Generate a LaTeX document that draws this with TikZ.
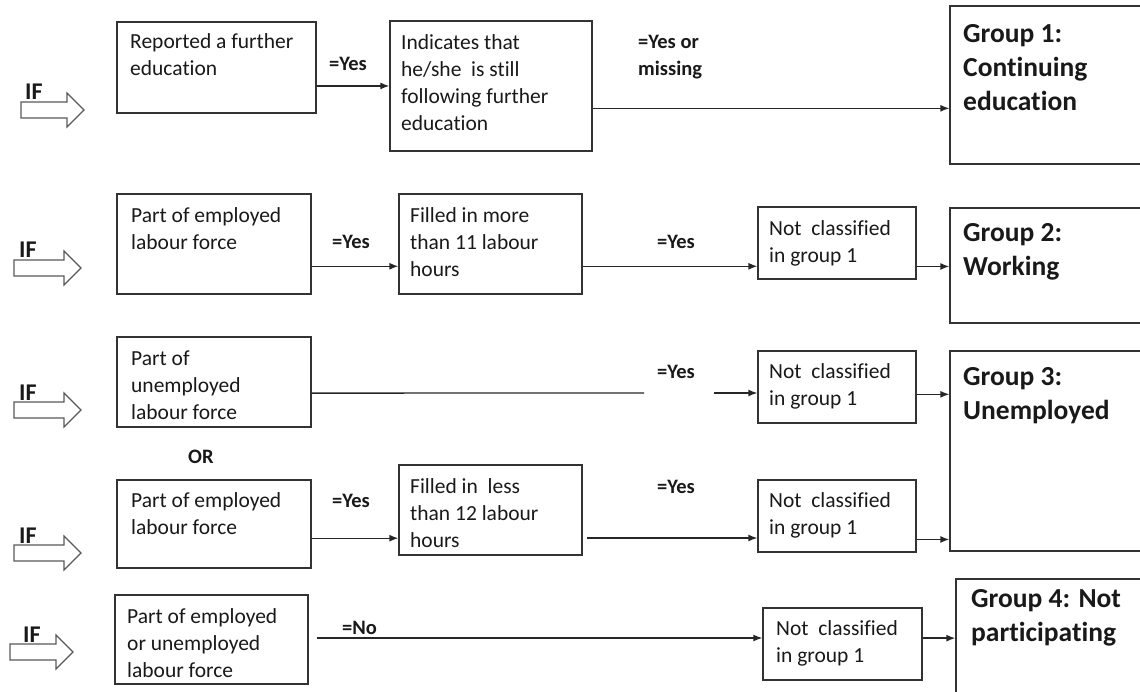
\documentclass[tikz,border=0pt]{standalone}
\usepackage{fontspec}
\setmainfont{Carlito}[Ligatures=NoCommon]
\usetikzlibrary{arrows.meta,fit,calc}
\begin{document}
\begin{tikzpicture}[x=1pt,y=-1pt,
  box/.style={draw=black!80, line width=1.3pt, inner sep=0pt},
  body/.style={anchor=north west, inner sep=0pt, align=left, text=black!90,
    font=\fontsize{21.5}{27}\selectfont, yshift=18.9pt},
  grp/.style={anchor=north west, inner sep=0pt, align=left, text=black!90,
    font=\fontsize{27.5}{34}\selectfont\bfseries, yshift=23.8pt},
  lab/.style={anchor=north west, inner sep=0pt, align=left, text=black!90,
    font=\fontsize{20.5}{27}\selectfont\bfseries, yshift=18.9pt},
  iflab/.style={anchor=base west, inner sep=0pt, text=black!90,
    font=\fontsize{24}{28}\selectfont\bfseries},
  ifa/.style={draw=black!65, line width=1.1pt, fill=white},
  arr/.style={line width=1.3pt, draw=black!85, -{Latex[length=9pt,width=7pt]}},
  ln/.style={line width=1.3pt, draw=black!85}]
\useasboundingbox (0,0) rectangle (1140,692);
\clip (0,0) rectangle (1140,692);

% IF block arrows
\newcommand\myifarrow[3]{%
  \draw[ifa] (#1,#2-8) -- (#3-17,#2-8) -- (#3-17,#2-17) -- (#3,#2)
    -- (#3-17,#2+17) -- (#3-17,#2+8) -- (#1,#2+8) -- cycle;}
\myifarrow{21}{110}{84}
\myifarrow{14}{268}{81}
\myifarrow{14}{410}{81}
\myifarrow{14}{553}{81}
\myifarrow{10}{652}{73}
\node[iflab] (if1) at (25,100) {IF};
\node[iflab] (if2) at (19,258) {IF};
\node[iflab] (if3) at (19,400) {IF};
\node[iflab] (if4) at (19,543) {IF};
\node[iflab] (if5) at (23,642) {IF};

% boxes
\node[box, fit={(117,22) (316,113)}] (a1) {};
\node[box, fit={(390,21) (592,151)}] (b1) {};
\node[box, fit={(950,6) (1170,164)}] (g1) {};
\node[box, fit={(117,194) (311,294)}] (a2) {};
\node[box, fit={(399,194) (582,294)}] (b2) {};
\node[box, fit={(758,207) (916,279)}] (nc2) {};
\node[box, fit={(950,208) (1170,323)}] (g2) {};
\node[box, fit={(117,337) (311,427)}] (a3) {};
\node[box, fit={(758,351) (916,423)}] (nc3) {};
\node[box, fit={(950,351) (1170,551)}] (g3) {};
\node[box, fit={(117,480) (311,568)}] (a4) {};
\node[box, fit={(399,465) (582,555)}] (b4) {};
\node[box, fit={(758,480) (916,552)}] (nc4) {};
\node[box, fit={(115,595) (308,684)}] (a5) {};
\node[box, fit={(763,608) (922,680)}] (nc5) {};
\node[box, fit={(956,579) (1170,720)}] (g4) {};

% texts
\node[body] (a1t) at (130,48) {\strut Reported a further\\education};
\node[body] (b1t) at (401,49) {\strut Indicates that\\he/she\ \ is still\\following further\\education};
\node[lab] (l1a) at (329,70) {\strut =Yes};
\node[lab] (l1b) at (638,48) {\strut =Yes or\\missing};
\node[grp] (g1t) at (963,42) {\strut Group 1:\\Continuing\\education};

\node[body] (a2t) at (131,222) {\strut Part of employed\\labour force};
\node[lab] (l2a) at (332,248) {\strut =Yes};
\node[body] (b2t) at (410,222) {\strut Filled in more\\than 11 labour\\hours};
\node[lab] (l2b) at (657,248) {\strut =Yes};
\node[body] (nc2t) at (769,235) {\strut Not\ \ classified\\in group 1};
\node[grp] (g2t) at (963,241) {\strut Group 2:\\Working};

\node[body] (a3t) at (131,365) {\strut Part of\\unemployed\\labour force};
\node[lab] (l3) at (657,378) {\strut =Yes};
\node[body] (nc3t) at (769,378) {\strut Not\ \ classified\\in group 1};
\node[grp] (g3t) at (963,385) {\strut Group 3:\\Unemployed};

\node[lab] (or) at (188,463) {\strut OR};

\node[body] (a4t) at (131,507) {\strut Part of employed\\labour force};
\node[lab] (l4a) at (332,507) {\strut =Yes};
\node[body] (b4t) at (410,493) {\strut Filled in\ \ less\\than 12 labour\\hours};
\node[lab] (l4b) at (657,493) {\strut =Yes};
\node[body] (nc4t) at (769,507) {\strut Not\ \ classified\\in group 1};

\node[body] (a5t) at (127,623) {\strut Part of employed\\or unemployed\\labour force};
\node[lab] (l5) at (342,634) {\strut =No};
\node[body] (nc5t) at (776,635) {\strut Not\ \ classified\\in group 1};
\node[grp] (g4t) at (971,607) {\strut Group 4: Not\\participating};

% connectors row 1
\draw[arr] ($(a1.north east)!0.70!(a1.south east)$) coordinate (c1) -- (c1 -| b1.west);
\draw[arr] ($(b1.north east)!0.67!(b1.south east)$) coordinate (c1b) -- (c1b -| g1.west);
% row 2
\draw[arr] ($(a2.north east)!0.72!(a2.south east)$) coordinate (c2) -- (c2 -| b2.west);
\draw[arr] ($(b2.north east)!0.72!(b2.south east)$) coordinate (c2b) -- (c2b -| nc2.west);
\draw[arr] ($(nc2.north east)!0.82!(nc2.south east)$) coordinate (c2c) -- (c2c -| g2.west);
% row 3
\coordinate (gapL) at (644,393);
\coordinate (gapR) at (714,393);
\draw[ln] ($(a3.north east)!0.622!(a3.south east)$) -- (gapL);
\draw[arr] (gapR) -- (gapR -| nc3.west);
\draw[arr] ($(nc3.north east)!0.6!(nc3.south east)$) coordinate (c3c) -- (c3c -| g3.west);
% row 4
\draw[arr] ($(a4.north east)!0.659!(a4.south east)$) coordinate (c4) -- (c4 -| b4.west);
\coordinate (r4s) at (587,538);
\draw[arr] (r4s) -- (r4s -| nc4.west);
\draw[arr] ($(nc4.north east)!0.82!(nc4.south east)$) coordinate (c4c) -- (c4c -| g3.west);
% row 5
\coordinate (r5s) at (317,638);
\draw[arr] (r5s) -- (r5s -| nc5.west);
\draw[arr] ($(nc5.north east)!0.42!(nc5.south east)$) coordinate (c5c) -- (c5c -| g4.west);
\end{tikzpicture}
\end{document}
